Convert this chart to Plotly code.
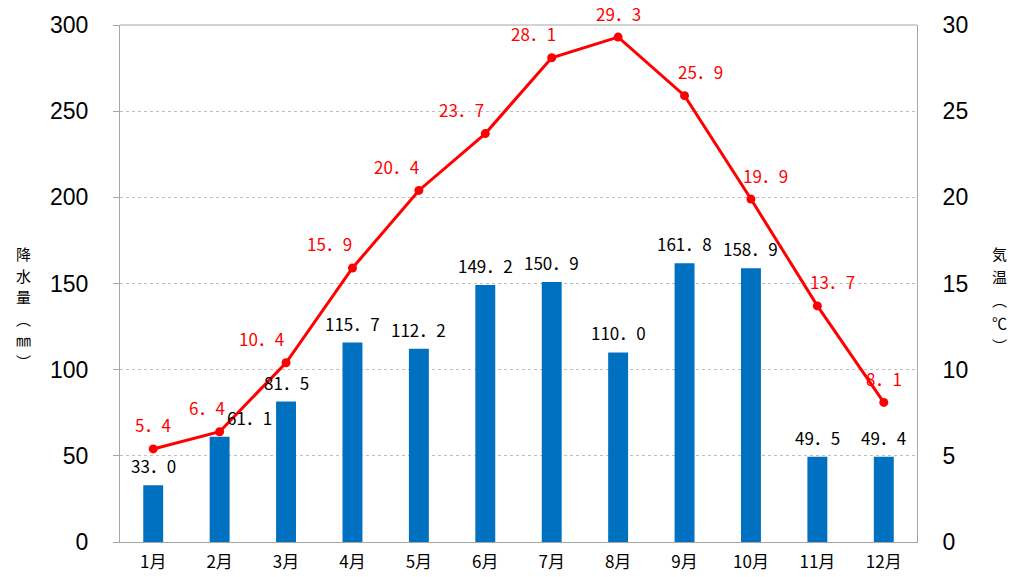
import plotly.graph_objects as go

months = ["1月", "2月", "3月", "4月", "5月", "6月", "7月", "8月", "9月", "10月", "11月", "12月"]
precip = [33.0, 61.1, 81.5, 115.7, 112.2, 149.2, 150.9, 110.0, 161.8, 158.9, 49.5, 49.4]
temp = [5.4, 6.4, 10.4, 15.9, 20.4, 23.7, 28.1, 29.3, 25.9, 19.9, 13.7, 8.1]
left_ticks = [0, 50, 100, 150, 200, 250, 300]
right_ticks = [0, 5, 10, 15, 20, 25, 30]
left_title_chars = ["降", "水", "量", "︵", "㎜", "︶"]
right_title_chars = ["気", "温", "︵", "℃", "︶"]

# label style offsets (pixels)
precip_xshift = [0, 30, 0, 0, 0, 0, 0, 0, 0, 0, 0, 0]
temp_xshift = [0, -13, -25, -23, -22, -24, -18, 0, 16, 15, 15, 0]

BLUE = "#0070C0"
RED = "#FF0000"
GRID = "#A6A6A6"
NUMFONT = "Liberation Sans, Arial"
LBLFONT = "Noto Sans CJK JP"

def fw(v):
    return f"{v:.1f}".replace(".", "．")

fig = go.Figure()
fig.add_trace(go.Bar(x=months, y=precip, marker=dict(color=BLUE, line=dict(width=0)),
                     yaxis="y", hoverinfo="skip", showlegend=False))
fig.add_trace(go.Scatter(x=months, y=temp, mode="lines+markers", yaxis="y2",
                         line=dict(color=RED, width=3),
                         marker=dict(color=RED, size=9), showlegend=False))

ann = []
for i, m in enumerate(months):
    ann.append(dict(x=m, y=precip[i], xref="x", yref="y", text=fw(precip[i]),
                    showarrow=False, yanchor="bottom", yshift=5, xshift=precip_xshift[i],
                    font=dict(family=LBLFONT, size=17, color="#000000")))
    ann.append(dict(x=m, y=temp[i], xref="x", yref="y2", text=fw(temp[i]),
                    showarrow=False, yanchor="middle", yshift=24, xshift=temp_xshift[i],
                    font=dict(family=LBLFONT, size=17, color=RED)))

for k, ch in enumerate(left_title_chars):
    ann.append(dict(x=0, xref="paper", xanchor="center", xshift=-97, y=0.5, yref="paper",
                    yanchor="middle", yshift=30 - 21.6 * k, text=ch, showarrow=False,
                    font=dict(family=LBLFONT, size=15, color="#000000")))
for k, ch in enumerate(right_title_chars):
    ann.append(dict(x=1, xref="paper", xanchor="center", xshift=82, y=0.5, yref="paper",
                    yanchor="middle", yshift=30 - 23 * k, text=ch, showarrow=False,
                    font=dict(family=LBLFONT, size=15, color="#000000")))

fig.update_layout(
    width=1013, height=577,
    margin=dict(l=120, r=96, t=25, b=35),
    paper_bgcolor="white", plot_bgcolor="white",
    bargap=0.7,
    annotations=ann,
    xaxis=dict(range=[-0.5, 11.5], tickfont=dict(family=LBLFONT, size=17, color="#000000"),
               showline=True, linecolor=GRID, linewidth=1, mirror=False, automargin=False,
               ticks="", showgrid=False, fixedrange=True, ticklabelstandoff=5),
    yaxis=dict(range=[0, 300], tickvals=left_ticks, ticks="outside", ticklen=6, tickcolor=GRID,
               tickfont=dict(family=NUMFONT, size=23, color="#000000"), automargin=False,
               showline=True, linecolor=GRID, linewidth=1,
               showgrid=True, gridcolor="#BFBFBF", griddash="dot", gridwidth=1,
               zeroline=False, ticklabelstandoff=20),
    yaxis2=dict(range=[0, 30], tickvals=right_ticks, overlaying="y", side="right",
                tickfont=dict(family=NUMFONT, size=23, color="#000000"), automargin=False,
                showline=True, linecolor=GRID, linewidth=1, ticks="",
                showgrid=False, zeroline=False, ticklabelstandoff=20),
    shapes=[dict(type="line", xref="paper", yref="paper", x0=0, x1=1, y0=1, y1=1,
                 line=dict(color=GRID, width=1))],
)

fig.write_html("out.html")
